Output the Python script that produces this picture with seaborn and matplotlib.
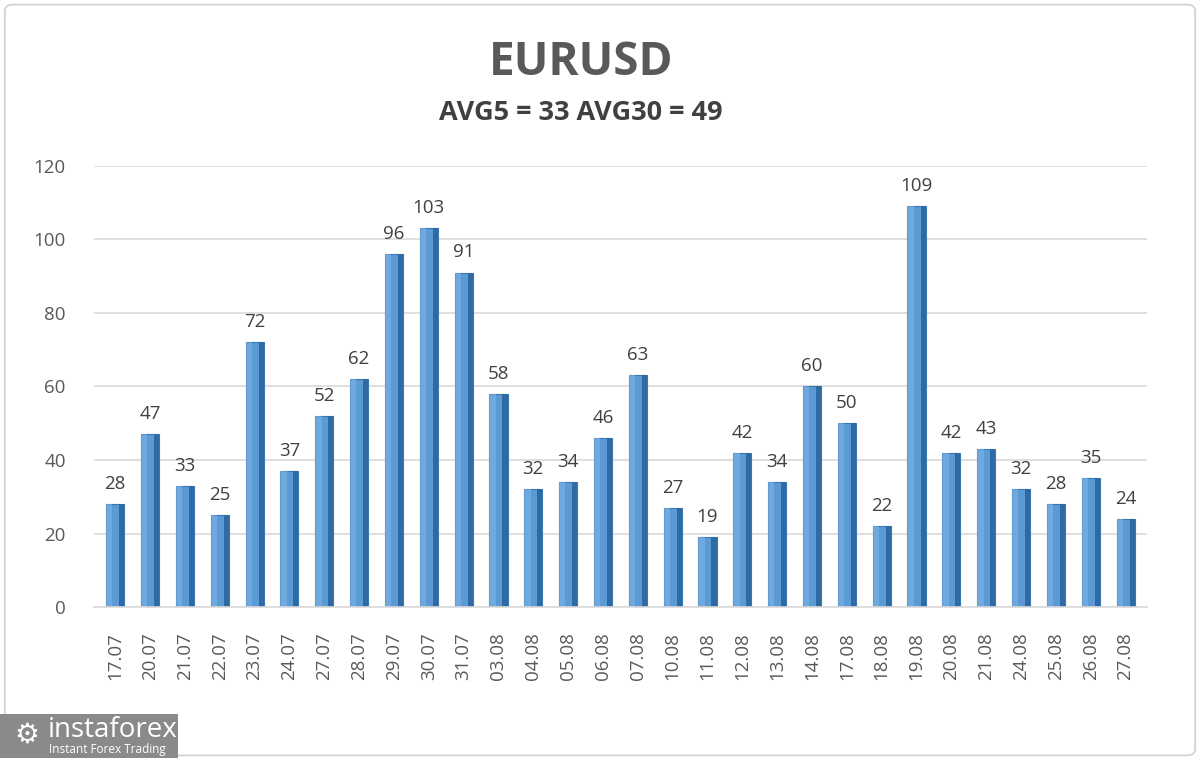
import matplotlib
matplotlib.use("Agg")
import matplotlib.pyplot as plt
import seaborn as sns
from matplotlib.patches import Rectangle, FancyBboxPatch

dates = ['17.07', '20.07', '21.07', '22.07', '23.07', '24.07', '27.07', '28.07', '29.07', '30.07',
         '31.07', '03.08', '04.08', '05.08', '06.08', '07.08', '10.08', '11.08', '12.08', '13.08',
         '14.08', '17.08', '18.08', '19.08', '20.08', '21.08', '24.08', '25.08', '26.08', '27.08']
values = [28, 47, 33, 25, 72, 37, 52, 62, 96, 103,
          91, 58, 32, 34, 46, 63, 27, 19, 42, 34,
          60, 50, 22, 109, 42, 43, 32, 28, 35, 24]
title = "EURUSD"
subtitle = "AVG5 = 33 AVG30 = 49"
y_ticks = [0, 20, 40, 60, 80, 100, 120]

sns.set_theme(style="white")
plt.rcParams['font.family'] = ['Open Sans', 'DejaVu Sans']

fig = plt.figure(figsize=(12, 7.6), dpi=100)
ax = fig.add_axes([0.078, 0.2013, 0.878, 0.5803])

sns.barplot(x=dates, y=values, color="#5b9bd5", width=0.52, saturation=1,
            edgecolor="#3a78b5", linewidth=0.8, ax=ax)

# darker right side to mimic the 3D bars
for p in list(ax.patches):
    side = p.get_width() * 0.28
    ax.add_patch(Rectangle((p.get_x() + p.get_width() - side, p.get_y()), side, p.get_height(),
                           facecolor="#2f6aa3", edgecolor="none", zorder=p.get_zorder() + 0.1))
    ax.add_patch(Rectangle((p.get_x(), p.get_y()), p.get_width() * 0.35, p.get_height(),
                           facecolor="#7fb3e3", edgecolor="none", alpha=0.6,
                           zorder=p.get_zorder() + 0.1))

for i, v in enumerate(values):
    ax.annotate(str(v), (i, v), xytext=(0, 8), textcoords="offset points",
                ha="center", va="bottom", fontsize=13.5, color="#404040")

ax.set_ylim(0, 120)
ax.set_xlim(-0.62, 29.62)
ax.set_yticks(y_ticks)
ax.yaxis.grid(True, color="#d9d9d9", linewidth=1.2)
ax.set_axisbelow(True)
for s in ["top", "right", "left"]:
    ax.spines[s].set_visible(False)
ax.spines["bottom"].set_color("#d9d9d9")
ax.spines["bottom"].set_linewidth(1.2)
ax.tick_params(axis="y", labelsize=13.5, labelcolor="#595959", length=0, pad=20)
ax.tick_params(axis="x", labelsize=13.5, labelcolor="#595959", length=0, pad=18, rotation=90)

fig.text(0.484, 0.918, title, ha="center", va="center", fontsize=33, fontweight="bold", color="#595959")
fig.text(0.484, 0.851, subtitle, ha="center", va="center", fontsize=19.5, fontweight="bold", color="#404040")

# outer frame
fig.patches.append(FancyBboxPatch((0.004, 0.006), 0.992, 0.988, boxstyle="round,pad=0,rounding_size=0.008",
                                  transform=fig.transFigure, facecolor="none", edgecolor="#d0d0d0",
                                  linewidth=1.2))
# logo block
fig.patches.append(Rectangle((0.0, 0.003), 0.148, 0.057, transform=fig.transFigure,
                             facecolor="#8a8a8a", edgecolor="none"))
fig.text(0.012, 0.033, "\u2699", ha="left", va="center", fontsize=20, color="white",
         family=['DejaVu Sans'])
fig.text(0.04, 0.040, "instaforex", ha="left", va="center", fontsize=20, color="white")
fig.text(0.041, 0.014, "Instant Forex Trading", ha="left", va="center", fontsize=8.5, color="white")

fig.savefig("out.png", dpi=100)
